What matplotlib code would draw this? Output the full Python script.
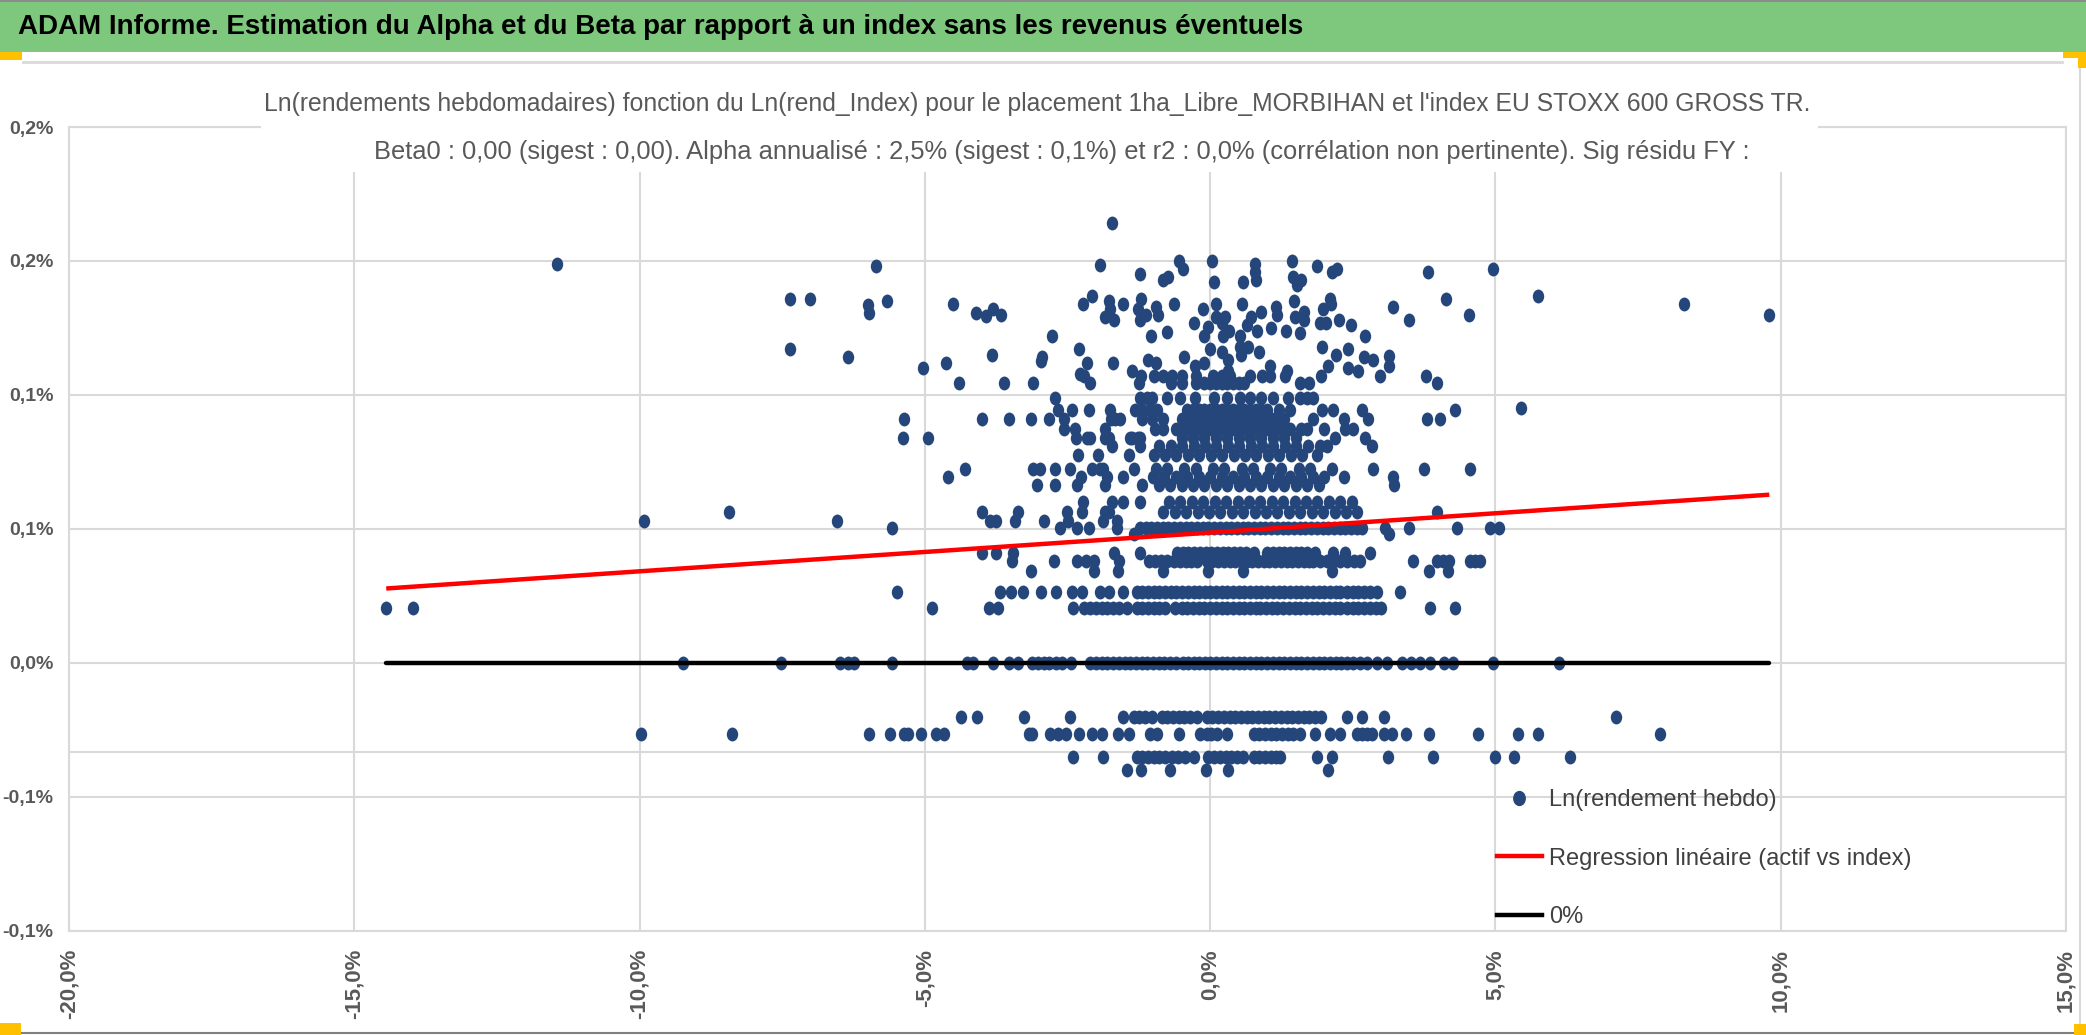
import numpy as np
import matplotlib
matplotlib.use("Agg")
import matplotlib.pyplot as plt
from matplotlib.path import Path
from matplotlib.transforms import Affine2D
from matplotlib.lines import Line2D
from matplotlib.patches import Rectangle
from matplotlib import font_manager as fm

# --- valeurs (en %) ---
# rendements hebdo quantifiés : une liste de x (index) par niveau de y (actif)
r_0000 = [-9.24, -7.52, -6.48, -6.34, -6.25, -5.58, -4.26, -4.15, -3.81, -3.52, -3.36, -3.13, -3.02, -2.92,
          -2.82, -2.71, -2.60, -2.44, -2.10, -2.00, -1.90, -1.80, -1.70, -1.60, -1.50, -1.40, -1.30, -1.20,
          -1.11, -1.00, -0.90, -0.80, -0.70, -0.60, -0.48, -0.38, -0.29, -0.19, -0.09, 0.00, 0.10, 0.20,
          0.30, 0.40, 0.50, 0.60, 0.70, 0.80, 0.90, 1.00, 1.10, 1.20, 1.30, 1.40, 1.50, 1.60, 1.70, 1.80,
          1.90, 2.00, 2.10, 2.20, 2.30, 2.40, 2.50, 2.63, 2.75, 2.92, 3.10, 3.36, 3.52, 3.68, 3.86, 4.09,
          4.26, 4.96, 6.12]
r_0205 = [-14.44, -13.97, -4.87, -3.88, -3.71, -2.41, -2.21, -2.10, -2.00, -1.90, -1.80, -1.70, -1.60, -1.46,
          -1.29, -1.19, -1.09, -0.99, -0.89, -0.79, -0.61, -0.50, -0.40, -0.30, -0.20, -0.10, 0.00, 0.10,
          0.20, 0.30, 0.40, 0.50, 0.60, 0.70, 0.80, 0.88, 0.98, 1.08, 1.18, 1.28, 1.38, 1.48, 1.58, 1.68,
          1.78, 1.88, 1.98, 2.08, 2.18, 2.28, 2.39, 2.50, 2.60, 2.70, 2.80, 2.90, 3.00, 3.86, 4.29]
r_0265 = [-5.49, -3.68, -3.49, -3.28, -2.97, -2.70, -2.42, -2.25, -1.93, -1.78, -1.53, -1.29, -1.19, -1.09,
          -0.99, -0.89, -0.79, -0.69, -0.59, -0.49, -0.39, -0.29, -0.19, -0.09, 0.00, 0.10, 0.20, 0.30,
          0.40, 0.50, 0.60, 0.70, 0.80, 0.90, 1.00, 1.10, 1.20, 1.30, 1.40, 1.50, 1.60, 1.70, 1.80, 1.90,
          2.00, 2.10, 2.20, 2.28, 2.39, 2.50, 2.60, 2.70, 2.80, 2.92, 3.33]
r_0345 = [-3.14, -2.04, -1.61, -0.82, -0.03, 0.58, 2.13, 3.84, 4.16]
r_0380 = [-3.47, -2.73, -2.34, -2.17, -2.04, -1.59, -1.08, -0.97, -0.86, -0.75, -0.64, -0.53, -0.43, -0.33,
          -0.23, -0.06, 0.04, 0.14, 0.24, 0.34, 0.44, 0.54, 0.64, 0.74, 0.84, 0.94, 1.04, 1.14, 1.24, 1.34,
          1.44, 1.54, 1.64, 1.74, 1.81, 1.93, 2.04, 2.16, 2.28, 2.40, 2.52, 2.63, 3.56, 3.97, 4.08, 4.18,
          4.56, 4.65, 4.73]
r_0410 = [-4.00, -3.75, -3.46, -1.69, -1.23, -0.58, -0.48, -0.38, -0.28, -0.18, -0.08, 0.02, 0.12, 0.22,
          0.32, 0.42, 0.52, 0.62, 0.76, 0.99, 1.10, 1.20, 1.30, 1.40, 1.50, 1.60, 1.69, 1.84, 2.16, 2.36, 2.80]
r_0480 = [-1.34, 3.14]
r_0505 = [-5.58, -2.63, -2.34, -2.13, -1.64, -1.23, -1.13, -1.03, -0.93, -0.83, -0.73, -0.63, -0.53, -0.43,
          -0.33, -0.23, -0.13, -0.03, 0.07, 0.17, 0.27, 0.37, 0.47, 0.57, 0.67, 0.77, 0.87, 0.97, 1.07, 1.17,
          1.27, 1.37, 1.47, 1.57, 1.67, 1.77, 1.87, 1.97, 2.07, 2.17, 2.27, 2.37, 2.47, 2.57, 2.66, 3.07,
          3.48, 4.32, 4.90, 5.07]
r_0530 = [-9.92, -6.54, -3.85, -3.75, -3.42, -2.92, -2.49, -1.87, -1.64]
r_0565 = [-8.43, -3.99, -3.36, -2.51, -2.25, -1.84, -1.78, -0.82, -0.62, -0.42, -0.22, -0.02, 0.18, 0.38,
          0.58, 0.78, 0.98, 1.18, 1.38, 1.58, 1.78, 1.98, 2.18, 2.38, 2.57, 3.97]
r_0600 = [-2.22, -1.72, -1.52, -1.23, -0.72, -0.52, -0.32, -0.12, 0.08, 0.28, 0.48, 0.68, 0.88, 1.08, 1.28,
          1.48, 1.68, 1.88, 2.08, 2.28, 2.48]
r_0665 = [-3.03, -2.72, -2.34, -1.84, -1.20, -0.90, -0.70, -0.50, -0.30, -0.10, 0.10, 0.30, 0.50, 0.70,
          0.90, 1.10, 1.30, 1.50, 1.70, 1.90, 3.23]
r_0695 = [-4.59, -2.27, -1.81, -1.52, -1.00, -0.80, -0.60, -0.40, -0.20, 0.00, 0.20, 0.40, 0.60, 0.80,
          1.00, 1.20, 1.40, 1.60, 1.80, 2.00, 2.34, 3.20]
r_0725 = [-4.30, -3.10, -2.98, -2.72, -2.45, -2.07, -1.93, -1.87, -1.34, -0.95, -0.75, -0.45, -0.25, 0.05,
          0.25, 0.55, 0.75, 1.05, 1.25, 1.55, 1.75, 2.13, 2.86, 3.74, 4.56]
r_0775 = [-2.32, -1.96, -1.43, -0.99, -0.79, -0.59, -0.39, -0.19, 0.01, 0.21, 0.41, 0.61, 0.81, 1.01,
          1.21, 1.41, 1.61, 1.87]
r_0810 = [-1.72, -1.23, -0.89, -0.69, -0.49, -0.29, -0.09, 0.11, 0.31, 0.51, 0.71, 0.91, 1.11, 1.31, 1.51,
          1.71, 1.93, 2.04, 2.83]
r_0840 = [-5.39, -4.95, -2.35, -2.16, -2.10, -1.84, -1.78, -1.40, -1.37, -1.27, -1.23, -0.50, -0.30, -0.10,
          0.10, 0.30, 0.50, 0.70, 0.90, 1.10, 1.30, 1.50, 2.19, 2.72]
r_0875 = [-2.56, -2.37, -1.84, -0.96, -0.82, -0.60, -0.50, -0.40, -0.30, -0.20, -0.10, 0.00, 0.10, 0.20,
          0.30, 0.40, 0.50, 0.60, 0.70, 0.80, 0.90, 1.00, 1.10, 1.20, 1.30, 1.40, 1.60, 1.69, 1.99, 2.37, 2.51]
r_0910 = [-5.37, -4.00, -3.52, -3.14, -2.83, -2.57, -1.74, -1.66, -1.58, -1.19, -1.02, -0.82, -0.50, -0.40,
          -0.30, -0.20, -0.10, 0.00, 0.10, 0.20, 0.30, 0.40, 0.50, 0.60, 0.70, 0.80, 0.90, 1.00, 1.10, 1.20,
          1.30, 1.81, 2.34, 2.77, 3.80, 4.03]
r_0945 = [-2.67, -2.42, -2.13, -1.76, -1.31, -1.20, -1.05, -0.93, -0.40, -0.30, -0.20, -0.10, 0.00, 0.10,
          0.20, 0.30, 0.40, 0.50, 0.60, 0.70, 0.80, 0.90, 1.00, 1.20, 1.40, 1.96, 2.16, 2.66, 4.29]
r_0990 = [-2.72, -1.23, -1.11, -1.02, -0.76, -0.53, -0.26, 0.06, 0.30, 0.53, 0.70, 0.90, 1.11, 1.37, 1.58,
          1.69, 1.81]
r_1045 = [-4.41, -3.62, -3.11, -2.10, -1.25, -0.69, -0.50, -0.25, -0.10, 0.00, 0.10, 0.20, 0.30, 0.40,
          0.50, 0.60, 1.58, 1.74, 3.98]
r_1070 = [-2.21, -1.21, -0.98, -0.82, -0.66, -0.50, -0.25, 0.05, 0.20, 0.35, 0.70, 0.91, 1.05, 1.31, 1.95,
          2.97, 3.78]
r_m200 = [-4.37, -4.08, -3.26, -2.46, -1.52, -1.34, -1.24, -1.14, -1.02, -0.85, -0.75, -0.65, -0.55, -0.45,
          -0.35, -0.23, -0.06, 0.04, 0.14, 0.24, 0.34, 0.44, 0.54, 0.64, 0.74, 0.84, 0.94, 1.04, 1.14, 1.24,
          1.34, 1.44, 1.54, 1.64, 1.74, 1.84, 1.94, 2.39, 2.66, 3.04, 7.12]
r_m265 = [-9.97, -8.38, -5.98, -5.61, -5.37, -5.29, -5.06, -4.80, -4.67, -3.18, -3.13, -2.80, -2.66, -2.52,
          -2.30, -2.07, -1.90, -1.61, -1.43, -1.06, -0.93, -0.55, -0.18, -0.06, 0.02, 0.12, 0.29, 0.76, 0.86,
          0.96, 1.06, 1.16, 1.26, 1.36, 1.46, 1.58, 1.84, 2.10, 2.28, 2.57, 2.67, 2.75, 2.83, 3.04, 3.18,
          3.43, 3.83, 4.69, 5.40, 5.75, 7.89]
r_m350 = [-2.41, -1.88, -1.29, -1.19, -1.09, -0.99, -0.89, -0.79, -0.67, -0.57, -0.44, -0.29, -0.03, 0.07,
          0.17, 0.27, 0.37, 0.47, 0.58, 0.76, 0.86, 0.96, 1.06, 1.16, 1.23, 1.87, 2.13, 3.11, 3.91, 5.00,
          5.32, 6.31]
r_m400 = [-1.45, -1.22, -0.70, -0.08, 0.31, 2.06]

niveaux = [0.0, 0.0205, 0.0265, 0.0345, 0.038, 0.041, 0.048, 0.0505, 0.053, 0.0565, 0.060, 0.0665,
           0.0695, 0.0725, 0.0775, 0.081, 0.084, 0.0875, 0.091, 0.0945, 0.099, 0.1045, 0.107,
           -0.020, -0.0265, -0.035, -0.040]
rangees = [r_0000, r_0205, r_0265, r_0345, r_0380, r_0410, r_0480, r_0505, r_0530, r_0565, r_0600, r_0665,
           r_0695, r_0725, r_0775, r_0810, r_0840, r_0875, r_0910, r_0945, r_0990, r_1045, r_1070,
           r_m200, r_m265, r_m350, r_m400]

# points isolés (au-dessus de ~0,11 %)
sc_x = [-11.44, -7.36, -7.01, -7.36, -6.34, -5.98, -5.99, -5.86, -5.66, -5.04, -4.63, -4.50, -4.11, -3.93,
        -3.80, -3.66, -3.83, -2.97, -2.77, -2.28,
        -1.72, -1.93, -1.23, -0.55, -0.48, -0.82, -0.73, 0.03, 0.06, 0.58, 0.78, 0.79, 0.81, 1.43, 1.46,
        1.52, 1.59, 1.87, 2.14, 2.23, 3.81, 4.13, 4.53, 3.21, 3.49, -2.22, -2.07, -1.78, -1.75, -1.85,
        -1.69, -1.52, -1.27, -1.21, -1.12, -1.23, -0.95, -0.91, -0.63, -0.12, 0.11, 0.55, 0.89, 1.15,
        1.18, 1.47, 1.64, 1.64, 1.97, 2.10, 2.12, 2.25, 1.92, 2.03, 2.46, 2.72, 1.49, 0.71, 0.64, 0.82,
        0.11, 0.26, 0.20, 0.33, -0.28, -0.04, -0.76, -1.03, -2.95, -2.29, -2.15, -1.71, -1.37, -1.09,
        -0.95, -0.46, -0.26, -0.10, -0.10, 0.00, 0.22, 0.20, 0.32, 0.32, 0.53, 0.53, 0.54, 0.67, 0.85,
        1.07, 1.05, 1.33, 1.34, 1.57, 1.96, 2.07, 2.20, 2.42, 2.42, 2.60, 2.70, 2.85, 3.14, 3.14,
        4.95, 5.75, 5.44, 8.31, 9.80]
sc_y = [0.149, 0.136, 0.136, 0.117, 0.114, 0.1306, 0.1335, 0.148, 0.135, 0.110, 0.112, 0.134, 0.1306, 0.1294,
        0.132, 0.130, 0.115, 0.1126, 0.122, 0.108,
        0.164, 0.1485, 0.145, 0.150, 0.147, 0.143, 0.144, 0.150, 0.142, 0.142, 0.149, 0.146, 0.143, 0.150,
        0.144, 0.141, 0.143, 0.148, 0.146, 0.147, 0.146, 0.136, 0.130, 0.133, 0.128, 0.134, 0.137, 0.135,
        0.132, 0.129, 0.128, 0.134, 0.132, 0.136, 0.130, 0.128, 0.133, 0.130, 0.134, 0.132, 0.134, 0.134,
        0.131, 0.133, 0.130, 0.135, 0.131, 0.128, 0.132, 0.136, 0.134, 0.128, 0.127, 0.127, 0.126, 0.122,
        0.129, 0.129, 0.126, 0.124, 0.129, 0.129, 0.127, 0.124, 0.127, 0.1255, 0.1236, 0.122, 0.114,
        0.117, 0.112, 0.112, 0.109, 0.113, 0.112, 0.114, 0.111, 0.122, 0.112, 0.117, 0.122, 0.116, 0.113,
        0.109, 0.122, 0.118, 0.115, 0.118, 0.116, 0.125, 0.111, 0.124, 0.109, 0.123, 0.118, 0.111, 0.115,
        0.117, 0.110, 0.109, 0.114, 0.113, 0.1146, 0.111,
        0.147, 0.137, 0.095, 0.134, 0.130]

# droite de régression (actif vs index) et ligne 0 %
reg_x = [-14.44, 9.80]
reg_y = [0.0278, 0.0628]
zero_x = [-14.44, 9.80]
zero_y = [0.0, 0.0]

x_ticks = [-20, -15, -10, -5, 0, 5, 10, 15]
x_labels = ["-20,0%", "-15,0%", "-10,0%", "-5,0%", "0,0%", "5,0%", "10,0%", "15,0%"]
y_ticks = [0.2, 0.15, 0.1, 0.05, 0.0, -0.05, -0.1]
y_labels = ["0,2%", "0,2%", "0,1%", "0,1%", "0,0%", "-0,1%", "-0,1%"]
ligne_sup = -0.0332   # trait gris horizontal supplémentaire

titre_bandeau = "ADAM Informe. Estimation du Alpha et du Beta par rapport à un index sans les revenus éventuels"
titre_1 = ("Ln(rendements hebdomadaires) fonction du Ln(rend_Index) pour le placement "
           "1ha_Libre_MORBIHAN et l'index EU STOXX 600 GROSS TR.")
titre_2 = ("Beta0 : 0,00 (sigest : 0,00). Alpha annualisé : 2,5% (sigest : 0,1%) et r2 : 0,0% "
           "(corrélation non pertinente). Sig résidu FY :")
legende = ["Ln(rendement hebdo)", "Regression linéaire (actif vs index)", "0%"]

# --- mise en forme ---
noms = {f.name for f in fm.fontManager.ttflist}
POLICE = "Liberation Sans" if "Liberation Sans" in noms else "DejaVu Sans"
plt.rcParams["font.family"] = [POLICE, "DejaVu Sans"]

BLEU = "#25467A"
GRILLE = "#D9D9D9"
GRIS_TXT = "#595959"

W, H = 2086, 1035
fig = plt.figure(figsize=(W / 100, H / 100), dpi=100)
fig.patch.set_facecolor("white")

ax = fig.add_axes([69 / W, 1 - 931 / H, (2066 - 69) / W, (931 - 127) / H])

x_pts = np.concatenate([np.array(r, dtype=float) for r in rangees] + [np.array(sc_x)])
y_pts = np.concatenate([np.full(len(r), n) for n, r in zip(niveaux, rangees)] + [np.array(sc_y)])

ellipse = Path.unit_circle().transformed(Affine2D().scale(0.82, 1.0))
ax.scatter(x_pts, y_pts, s=100, marker=ellipse, color=BLEU, linewidths=0, zorder=3)
ax.plot(reg_x, reg_y, color="#FF0000", lw=3.2, solid_capstyle="butt", zorder=4)
ax.plot(zero_x, zero_y, color="black", lw=3.2, solid_capstyle="round", zorder=4)
ax.axhline(ligne_sup, color=GRILLE, lw=1.5, zorder=1)

ax.set_xlim(-20, 15)
ax.set_ylim(-0.1, 0.2)
ax.set_xticks(x_ticks)
ax.set_xticklabels(x_labels, rotation=90, fontsize=16, fontweight="bold", color=GRIS_TXT)
ax.set_yticks(y_ticks)
ax.set_yticklabels(y_labels, fontsize=14, fontweight="bold", color=GRIS_TXT)
ax.tick_params(axis="x", length=0, pad=13)
ax.tick_params(axis="y", length=0, pad=11)
ax.grid(True, color=GRILLE, lw=1.5, zorder=0)
ax.set_axisbelow(True)
for sp in ax.spines.values():
    sp.set_color(GRILLE)
    sp.set_linewidth(1.5)

# bandeau vert + cadre
fig.patches.append(Rectangle((0, 1 - 52 / H), 1, 52 / H, transform=fig.transFigure,
                             facecolor="#7EC87E", edgecolor="none", zorder=1))
fig.add_artist(Line2D([0, 1], [1 - 1 / H, 1 - 1 / H], color="#8C8C8C", lw=1.5))
fig.add_artist(Line2D([23 / W, 2062 / W], [1 - 62 / H, 1 - 62 / H], color=GRILLE, lw=2))
fig.add_artist(Line2D([2080 / W, 2080 / W], [2 / H, 1 - 62 / H], color=GRILLE, lw=1.5))
fig.add_artist(Line2D([0, 1], [2 / H, 2 / H], color="#7F7F7F", lw=1.5))
for (x0, y0, w, h) in [(0, 52, 22, 8), (2063, 52, 23, 6), (2078, 52, 8, 16), (0, 1023, 21, 12), (2074, 1024, 12, 11)]:
    fig.patches.append(Rectangle((x0 / W, 1 - (y0 + h) / H), w / W, h / H, transform=fig.transFigure,
                                 facecolor="#FFC000", edgecolor="none", zorder=2))
fig.text(18 / W, 1 - 27 / H, titre_bandeau, fontsize=20, fontweight="bold", color="black",
         ha="left", va="center", zorder=3)

# cadre blanc du titre du graphique (masque la grille)
fig.patches.append(Rectangle((261 / W, 1 - 172 / H), (1818 - 261) / W, (172 - 66) / H,
                             transform=fig.transFigure, facecolor="white", edgecolor="none", zorder=2))
fig.text(1037 / W, 1 - 104 / H, titre_1, fontsize=17.8, color=GRIS_TXT, ha="center", va="center", zorder=3)
fig.text(1062 / W, 1 - 152 / H, titre_2, fontsize=18.4, color=GRIS_TXT, ha="center", va="center", zorder=3)

poignees = [Line2D([], [], ls="none", marker=ellipse, markersize=10, color=BLEU),
            Line2D([], [], color="#FF0000", lw=3.2),
            Line2D([], [], color="black", lw=3.2)]
leg = fig.legend(poignees, legende, loc="upper left", bbox_to_anchor=(1497 / W, 1 - 789 / H),
                 frameon=False, fontsize=17, handlelength=1.9, handletextpad=0.3,
                 labelspacing=1.55, borderpad=0, borderaxespad=0)
for t in leg.get_texts():
    t.set_color("#404040")

fig.savefig("out.png", dpi=100, facecolor="white")
